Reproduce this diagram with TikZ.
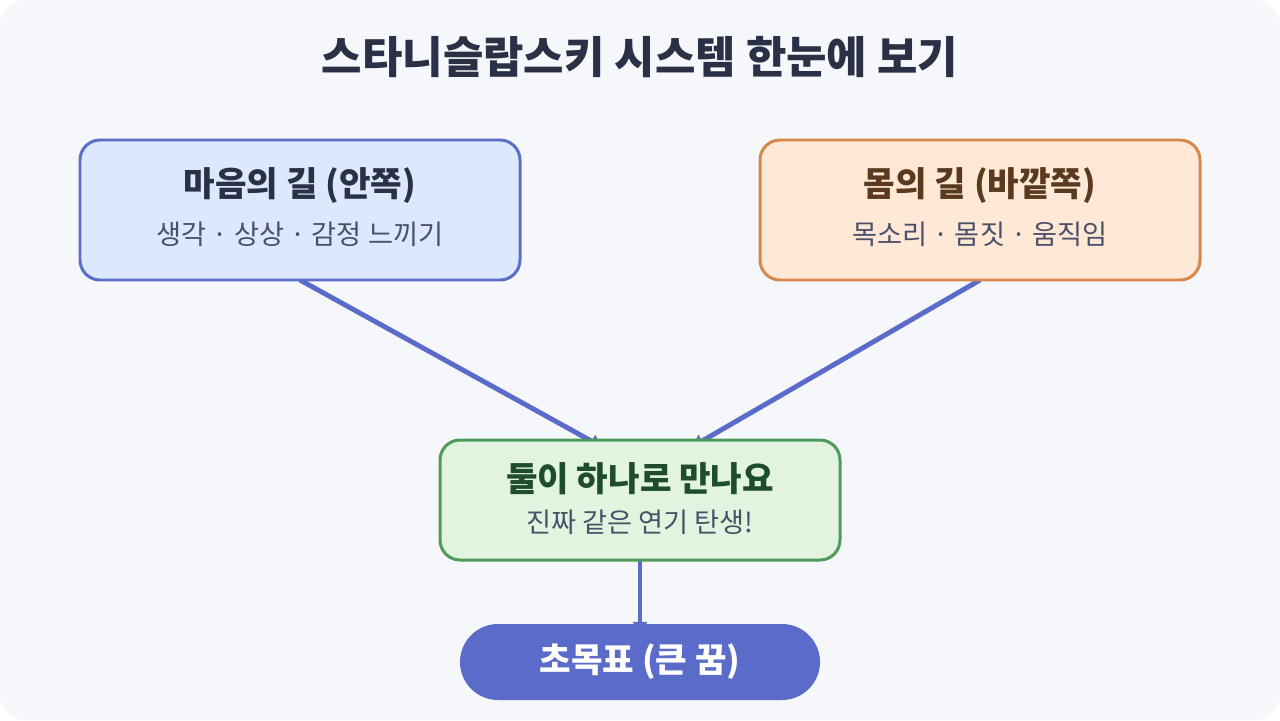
\documentclass[tikz,border=0pt]{standalone}
\usepackage{fontspec}
\setmainfont{Noto Sans CJK KR}
\usetikzlibrary{arrows.meta}
\definecolor{bgc}{HTML}{F5F7FB}
\definecolor{titlec}{HTML}{2A3045}
\definecolor{linec}{HTML}{5B6BC9}
\definecolor{bluefill}{HTML}{DCE8FD}
\definecolor{blueedge}{HTML}{5B6FC7}
\definecolor{orangefill}{HTML}{FFE9D6}
\definecolor{orangeedge}{HTML}{D4884A}
\definecolor{orangetext}{HTML}{5A3A1E}
\definecolor{greenfill}{HTML}{E2F4DF}
\definecolor{greenedge}{HTML}{4E9A5A}
\definecolor{greentext}{HTML}{1E4D2B}
\definecolor{subc}{HTML}{4A5068}
\tikzset{
  px/.style={x=0.02cm,y=-0.02cm},
  card/.style={draw, line width=1.7pt, rounded corners=0.4cm},
  conn/.style={draw=linec, line width=2.8pt, -{Latex[length=8pt,width=9pt]}},
  headtxt/.style={font=\fontsize{19.5}{23}\selectfont\bfseries},
  subtxt/.style={font=\fontsize{15.5}{18}\selectfont, text=subc},
}
\begin{document}
\begin{tikzpicture}[px]
\useasboundingbox (0,0) rectangle (1280,720);
\fill[white] (0,0) rectangle (1280,720);
\fill[bgc, rounded corners=0.5cm] (0,0) rectangle (1280,720);
\node[font=\fontsize{25}{30}\selectfont\bfseries, text=titlec] (title) at (640,57) {스타니슬랍스키 시스템 한눈에 보기};
% connector endpoints
\coordinate (la) at (300,280);
\coordinate (lb) at (604,448);
\coordinate (ra) at (980,280);
\coordinate (rb) at (690,448);
\coordinate (ma) at (640,560);
\coordinate (mb) at (640,636);
\draw[conn] (la) -- (lb);
\draw[conn] (ra) -- (rb);
\draw[conn] (ma) -- (mb);
% boxes
\path[card, draw=blueedge, fill=bluefill] (80,140) rectangle (520,280);
\node[headtxt, text=titlec] (lt) at (300,186) {마음의 길 (안쪽)};
\node[subtxt] (ls) at (300,234) {생각 · 상상 · 감정 느끼기};
\path[card, draw=orangeedge, fill=orangefill] (760,140) rectangle (1200,280);
\node[headtxt, text=orangetext] (rt) at (980,186) {몸의 길 (바깥쪽)};
\node[subtxt] (rs) at (980,234) {목소리 · 몸짓 · 움직임};
\path[card, draw=greenedge, fill=greenfill] (440,440) rectangle (840,560);
\node[headtxt, text=greentext] (gt) at (640,479) {둘이 하나로 만나요};
\node[subtxt] (gs) at (640,522) {진짜 같은 연기 탄생!};
\path[fill=linec, rounded corners=0.76cm] (460,624) rectangle (820,700);
\node[headtxt, text=white] (bt) at (640,662) {초목표 (큰 꿈)};
\end{tikzpicture}
\end{document}
